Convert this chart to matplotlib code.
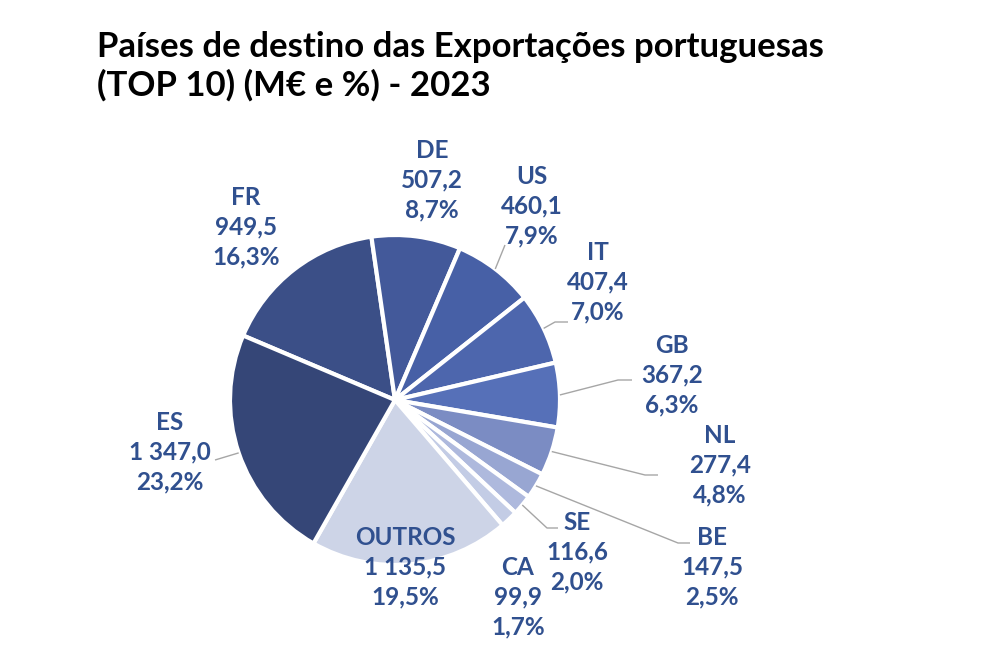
import matplotlib
matplotlib.use("Agg")
import matplotlib.pyplot as plt
import numpy as np

# ---- data ----
countries = ["FR", "DE", "US", "IT", "GB", "NL", "BE", "SE", "CA", "OUTROS", "ES"]
values = [949.5, 507.2, 460.1, 407.4, 367.2, 277.4, 147.5, 116.6, 99.9, 1135.5, 1347.0]
value_labels = ["949,5", "507,2", "460,1", "407,4", "367,2", "277,4", "147,5", "116,6", "99,9", "1 135,5", "1 347,0"]
pct_labels = ["16,3%", "8,7%", "7,9%", "7,0%", "6,3%", "4,8%", "2,5%", "2,0%", "1,7%", "19,5%", "23,2%"]
colors = ["#3b4f87", "#43599a", "#4760a6", "#4d66ad", "#5670b8", "#7b8cc3",
          "#98a6d2", "#aeb9dd", "#c3cce5", "#cdd4e7", "#354677"]
title_lines = ["Países de destino das Exportações portuguesas", "(TOP 10) (M€ e %) - 2023"]

W, H = 1000, 658
fig = plt.figure(figsize=(W / 100, H / 100), dpi=100)
ax = fig.add_axes([0, 0, 1, 1])

def py(y):
    return H - y

cx, cy, R = 395, py(400), 165
wedges, _ = ax.pie(values, colors=colors, startangle=157, counterclock=False,
                   center=(cx, cy), radius=R, frame=True,
                   wedgeprops=dict(edgecolor="white", linewidth=3))
ax.set_xlim(0, W)
ax.set_ylim(0, H)
ax.axis("off")

txt_color = "#30508f"
font = ["Lato", "DejaVu Sans"]

# label centre positions (pixels, middle line)
label_pos = {
    "FR": (246, 227), "DE": (432, 180), "US": (532, 206), "IT": (598, 282),
    "GB": (672, 375), "NL": (720, 465), "BE": (712, 567), "SE": (577, 552),
    "CA": (518, 597), "OUTROS": (405, 567), "ES": (170, 452),
}
# leader line bend / end points (pixels)
leaders = {
    "US": [(505, 245)],
    "IT": [(555, 322), (568, 322)],
    "GB": [(618, 380), (632, 380)],
    "NL": [(645, 475), (658, 475)],
    "BE": [(678, 543), (690, 543)],
    "SE": [(547, 528), (558, 528)],
    "ES": [(215, 460)],
}

for w, c, v, p in zip(wedges, countries, value_labels, pct_labels):
    x, y = label_pos[c]
    ax.text(x, py(y), f"{c}\n{v}\n{p}", ha="center", va="center",
            fontsize=17.5, fontweight="bold", color=txt_color,
            family=font, linespacing=1.36)
    if c in leaders:
        ang = np.deg2rad((w.theta1 + w.theta2) / 2)
        xs = [cx + R * np.cos(ang)] + [q[0] for q in leaders[c]]
        ys = [cy + R * np.sin(ang)] + [py(q[1]) for q in leaders[c]]
        ax.plot(xs, ys, color="#a6a6a6", lw=1, solid_capstyle="butt")

for line, base in zip(title_lines, [57, 96]):
    ax.text(97, py(base), line, ha="left", va="baseline", fontsize=25,
            fontweight="bold", color="black", family=font)

fig.savefig("out.png", dpi=100, facecolor="white")
